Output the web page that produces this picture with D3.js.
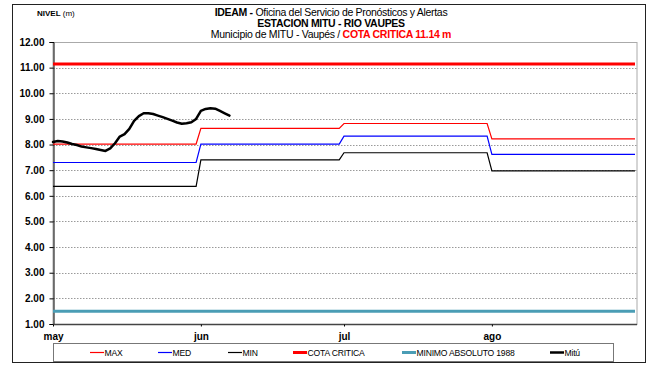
<!DOCTYPE html>
<html>
<head>
<meta charset="utf-8">
<script src="https://cdn.jsdelivr.net/npm/d3@7"></script>
<style>
  html, body { margin: 0; padding: 0; background: #fff; }
  svg { display: block; font-family: "Liberation Sans", Arial, sans-serif; }
</style>
</head>
<body>
<svg id="chart" width="651" height="368"></svg>
<script>
// Month starts shown on the axis (last month runs to the 31st)
const monthLabels = ["may", "jun", "jul", "ago"];
const monthStarts = ["2011-05-01", "2011-06-01", "2011-07-01", "2011-08-01"];
const periodEnd = "2011-08-31";

// Monthly reference levels (m)
const maxVals = [8.02, 8.63, 8.82, 8.22];
const medVals = [7.30, 8.02, 8.33, 7.62];
const minVals = [6.37, 7.40, 7.68, 6.97];

const cotaCritica = 11.14;
const minimoAbsoluto = 1.50;

// Daily observed level at Mitú from 1 May
const mituStart = "2011-05-01";
const mituVals = [8.10, 8.14, 8.12, 8.08, 8.02, 7.98, 7.92, 7.89, 7.86, 7.83,
                  7.79, 7.75, 7.85, 8.05, 8.31, 8.41, 8.61, 8.92, 9.11, 9.22,
                  9.22, 9.19, 9.13, 9.07, 9.00, 8.93, 8.86, 8.81, 8.83, 8.87,
                  9.00, 9.31, 9.39, 9.42, 9.40, 9.31, 9.22, 9.13];

const yTicks = [1, 2, 3, 4, 5, 6, 7, 8, 9, 10, 11, 12];

const parse = d3.utcParse("%Y-%m-%d");
const svg = d3.select("#chart");

const plot = { left: 53, right: 637, top: 42, bottom: 324 };

const x = d3.scaleUtc()
  .domain([parse(monthStarts[0]), parse(periodEnd)])
  .range([plot.left, 635]);
const y = d3.scaleLinear().domain([1, 12]).range([plot.bottom, plot.top]);

// Outer frame
svg.append("rect").attr("x", 12.5).attr("y", 4.5).attr("width", 633).attr("height", 358)
  .attr("fill", "#fff").attr("stroke", "#222").attr("stroke-width", 1);

// Plot frame (top/right)
svg.append("rect").attr("x", plot.left).attr("y", plot.top + 0.5)
  .attr("width", plot.right - plot.left).attr("height", plot.bottom - plot.top)
  .attr("fill", "none").attr("stroke", "#aaa").attr("stroke-width", 1);

// Horizontal dotted gridlines
svg.append("g").selectAll("line").data(yTicks.filter(v => v > 1 && v < 12)).join("line")
  .attr("x1", plot.left).attr("x2", plot.right)
  .attr("y1", d => Math.round(y(d)) + 0.5).attr("y2", d => Math.round(y(d)) + 0.5)
  .attr("stroke", "#9a9a9a").attr("stroke-width", 1).attr("stroke-dasharray", "1.5,1.5");

// Y axis
const yAxis = svg.append("g").attr("transform", `translate(${plot.left + 0.5},0)`)
  .call(d3.axisLeft(y).tickValues(yTicks).tickFormat(d3.format(".2f")).tickSizeOuter(0).tickSize(4));
yAxis.select(".domain").attr("stroke", "#000");
yAxis.selectAll(".tick line").attr("stroke", "#000");
yAxis.selectAll(".tick text").attr("x", -9).attr("font-size", 10).attr("font-weight", "bold")
  .attr("font-family", "Liberation Sans, Arial, sans-serif").attr("fill", "#000");

// X axis
const xAxis = svg.append("g").attr("transform", `translate(0,${plot.bottom + 0.5})`)
  .call(d3.axisBottom(x).tickValues(monthStarts.map(parse))
    .tickFormat((d, i) => monthLabels[i]).tickSizeOuter(0).tickSize(2));
xAxis.select(".domain").attr("stroke", "#444").attr("stroke-width", 1.5)
  .attr("d", `M${plot.left},0H${plot.right}`);
xAxis.selectAll(".tick line").attr("stroke", "#000");
xAxis.selectAll(".tick text").attr("y", 8).attr("font-size", 10).attr("font-weight", "bold")
  .attr("font-family", "Liberation Sans, Arial, sans-serif").attr("fill", "#000");

// Monthly step series: each month holds its value from the 1st to its last day
function stepPoints(vals) {
  const pts = [];
  vals.forEach((v, i) => {
    const start = parse(monthStarts[i]);
    const end = i < vals.length - 1 ? d3.utcDay.offset(parse(monthStarts[i + 1]), -1) : parse(periodEnd);
    pts.push([start, v], [end, v]);
  });
  return pts;
}
const line = d3.line().x(d => x(d[0])).y(d => y(d[1]));

const flat = v => [[parse(monthStarts[0]), v], [parse(periodEnd), v]];

svg.append("path").datum(flat(minimoAbsoluto)).attr("d", line)
  .attr("fill", "none").attr("stroke", "#4a9db5").attr("stroke-width", 3);
svg.append("path").datum(flat(cotaCritica)).attr("d", line)
  .attr("fill", "none").attr("stroke", "#ff0000").attr("stroke-width", 3);

svg.append("path").datum(stepPoints(minVals)).attr("d", line)
  .attr("fill", "none").attr("stroke", "#000").attr("stroke-width", 1.2);
svg.append("path").datum(stepPoints(medVals)).attr("d", line)
  .attr("fill", "none").attr("stroke", "#0000ff").attr("stroke-width", 1.2);
svg.append("path").datum(stepPoints(maxVals)).attr("d", line)
  .attr("fill", "none").attr("stroke", "#ff0000").attr("stroke-width", 1.2);

// Observed level
const mituPts = mituVals.map((v, i) => [d3.utcDay.offset(parse(mituStart), i), v]);
svg.append("path").datum(mituPts).attr("d", line)
  .attr("fill", "none").attr("stroke", "#000").attr("stroke-width", 2.5)
  .attr("stroke-linejoin", "round").attr("stroke-linecap", "round");

// Titles
const title = svg.append("g").attr("font-size", 10.5).attr("fill", "#000").attr("text-anchor", "middle");
const t1 = title.append("text").attr("x", 331).attr("y", 16).attr("letter-spacing", -0.3);
t1.append("tspan").attr("font-weight", "bold").text("IDEAM - ");
t1.append("tspan").text("Oficina del Servicio de Pronósticos y Alertas");
title.append("text").attr("x", 331).attr("y", 26.5).attr("font-weight", "bold")
  .attr("letter-spacing", -0.3).text("ESTACION MITU - RIO VAUPES");
const t3 = title.append("text").attr("x", 331).attr("y", 37.5).attr("letter-spacing", -0.3);
t3.append("tspan").text("Municipio de MITU - Vaupés / ");
t3.append("tspan").attr("font-weight", "bold").attr("fill", "#ff0000").text("COTA CRITICA 11.14 m");

const yl = svg.append("text").attr("x", 37).attr("y", 16).attr("font-size", 8).attr("fill", "#000");
yl.append("tspan").attr("font-weight", "bold").text("NIVEL");
yl.append("tspan").text(" (m)");

// Legend
const legendItems = [
  { name: "MAX", color: "#ff0000", w: 1.2, x: 90 },
  { name: "MED", color: "#0000ff", w: 1.2, x: 158 },
  { name: "MIN", color: "#000", w: 1.2, x: 228 },
  { name: "COTA CRITICA", color: "#ff0000", w: 3, x: 293 },
  { name: "MINIMO ABSOLUTO 1988", color: "#4a9db5", w: 3, x: 402 },
  { name: "Mitú", color: "#000", w: 2.5, x: 550 }
];
svg.append("rect").attr("x", 53.5).attr("y", 343.5).attr("width", 560).attr("height", 18)
  .attr("fill", "#fff").attr("stroke", "#777").attr("stroke-width", 1);
const lg = svg.append("g").selectAll("g").data(legendItems).join("g")
  .attr("transform", d => `translate(${d.x},352.5)`);
lg.append("line").attr("x1", 0).attr("x2", 14)
  .attr("stroke", d => d.color).attr("stroke-width", d => d.w);
lg.append("text").attr("x", 14.5).attr("y", 3).attr("font-size", 8.6).attr("letter-spacing", -0.2)
  .attr("fill", "#000").text(d => d.name);
</script>
</body>
</html>
